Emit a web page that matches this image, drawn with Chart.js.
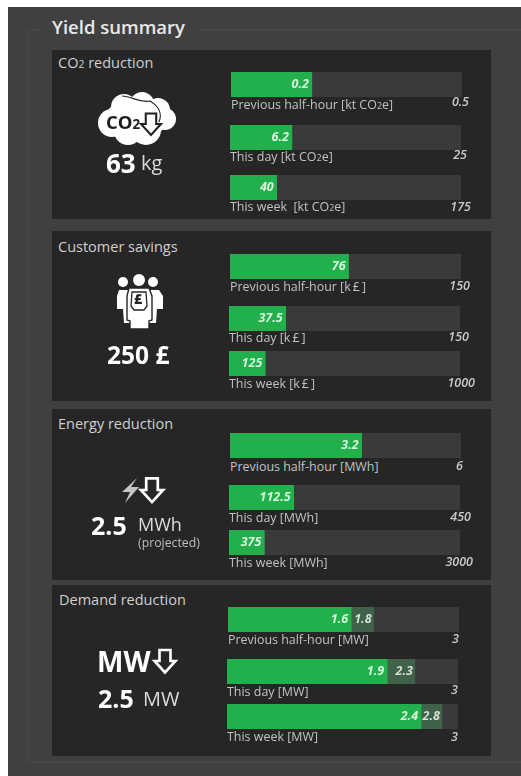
<!DOCTYPE html>
<html><head><meta charset="utf-8">
<script src="https://cdn.jsdelivr.net/npm/chart.js@4"></script>
<style>
html,body{margin:0;padding:0;background:#fff;}
#stage{position:relative;width:521px;height:776px;overflow:hidden;font-family:"Open Sans",sans-serif;filter:blur(.4px);}
#bg{position:absolute;left:8px;top:7px;width:513px;height:769px;background:#404040;}
#frame{position:absolute;left:28px;top:29px;width:520px;height:734px;border:1px solid #4a4a4a;box-sizing:border-box;}
#legend{position:absolute;left:40px;top:12px;padding:0 12px;background:#404040;color:#e8e8e8;font-weight:600;font-size:18.5px;line-height:30px;height:30px;white-space:nowrap;}
.panel{position:absolute;left:52px;width:439px;background:#262626;}
.t{position:absolute;white-space:nowrap;line-height:1;}
.ptitle{color:#cfcfcf;font-size:14.5px;}
.cap{color:#c2c2c2;font-size:12.45px;font-weight:500;}
.max{color:#cacaca;font-size:12.5px;font-weight:600;font-style:italic;}
.big{color:#fff;font-weight:700;}
.unit{color:#dcdcdc;font-weight:400;}
sub.s{font-size:.72em;vertical-align:baseline;line-height:0;}
canvas{position:absolute;display:block;}
svg{position:absolute;overflow:visible;}
</style></head><body>
<div id="stage">
<div id="bg"></div><div id="frame"></div><div id="legend">Yield summary</div>
</div>
<script>
// ---- data ----
const panelTitles = ["CO2 reduction", "Customer savings", "Energy reduction", "Demand reduction"];
const rowPeriods = ["Previous half-hour", "This day", "This week"];
const panelUnits = ["kt CO2e", "k\u2009£\u2009", "MWh", "MW"];

const co2Values      = [0.175, 6.7, 35.4];
const savingsValues  = [77, 36.8, 157];
const energyValues   = [3.42, 126, 459];
const demandValues   = [1.6, 2.08, 2.52];
const demandSecond   = [1.89, 2.44, 2.79];

const co2Labels      = ["0.2", "6.2", "40"];
const savingsLabels  = ["76", "37.5", "125"];
const energyLabels   = ["3.2", "112.5", "375"];
const demandLabels   = ["1.6", "1.9", "2.4"];
const demandSecondLabels = ["1.8", "2.3", "2.8"];

const co2Max     = [0.5, 25, 175];
const savingsMax = [150, 150, 1000];
const energyMax  = [6, 450, 3000];
const demandMax  = [3, 3, 3];

const allValues = [co2Values, savingsValues, energyValues, demandValues];
const allLabels = [co2Labels, savingsLabels, energyLabels, demandLabels];
const allMax = [co2Max, savingsMax, energyMax, demandMax];

// ---- layout ----
const panelBoxes = [[50,169],[231,170],[409,171],[585,171]];
const titlePos = [[58,56],[58,240],[58,417],[59,593]];
const barBoxes = [
 [[231,72],[230,125],[230,175]],
 [[230,254],[229,306],[229,351]],
 [[230,433],[229,485],[229,530]],
 [[228,607],[227,659],[227,704]]];
const capY = [[99,151,201],[281,332,378],[461,512,557],[634,686,731]];
const maxPos = [[[469,96],[467,149],[471,201]],[[470,280],[469,331],[475,377]],[[463,460],[471,511],[473,556]],[[459,633],[458,684],[458,731]]];
const BAR_W = 231, BAR_H = 25;
const stage = document.getElementById('stage');

function addText(cls, x, y, html, right, css){
  const d = document.createElement('div');
  d.className = 't ' + cls;
  d.style.top = y + 'px';
  if (right) d.style.right = (521 - x) + 'px'; else d.style.left = x + 'px';
  d.innerHTML = html;
  if (css) d.style.cssText += css;
  stage.appendChild(d);
  return d;
}
const co2 = s => s.replace(/CO2/g, 'CO<sub class="s">2</sub>');

panelBoxes.forEach(p => {
  const d = document.createElement('div');
  d.className = 'panel'; d.style.top = p[0]+'px'; d.style.height = p[1]+'px';
  stage.appendChild(d);
});

const valueLabelPlugin = {
  id: 'valueLabels',
  afterDatasetsDraw(chart) {
    const ctx = chart.ctx, items = chart.options.plugins.valueLabels.items;
    ctx.save();
    ctx.textAlign = 'right'; ctx.textBaseline = 'middle';
    ctx.font = 'italic 700 12.5px "Open Sans", sans-serif';
    items.forEach(it => {
      const x = chart.scales.x.getPixelForValue(it.value);
      const y = chart.scales.y.getPixelForValue(0);
      ctx.fillStyle = it.color;
      ctx.fillText(it.text, x - it.gap, y);
    });
    ctx.restore();
  }
};

panelTitles.forEach((title, pi) => {
  addText('ptitle', titlePos[pi][0], titlePos[pi][1], co2(title));
  rowPeriods.forEach((period, ri) => {
    const [x, y] = barBoxes[pi][ri];
    const c = document.createElement('canvas');
    c.width = BAR_W; c.height = BAR_H;
    c.style.left = x + 'px'; c.style.top = y + 'px';
    c.style.width = BAR_W + 'px'; c.style.height = BAR_H + 'px';
    stage.appendChild(c);
    const v = allValues[pi][ri], m = allMax[pi][ri];
    const datasets = [{ data:[v], backgroundColor:'#21b04b', order:1 }];
    const items = [{ value:v, text:allLabels[pi][ri], color:'#d9f7dc', gap:3 }];
    if (pi === 3) {
      datasets.push({ data:[demandSecond[ri]], backgroundColor:'#3f6249', order:2 });
      items.push({ value:demandSecond[ri], text:demandSecondLabels[ri], color:'#d6dfd8', gap:2 });
    }
    datasets.push({ data:[m], backgroundColor:'#3a3a3a', order:3 });
    new Chart(c, {
      type:'bar',
      data:{ labels:[period], datasets: datasets.map(d => Object.assign(d,{barPercentage:1,categoryPercentage:1,grouped:false,borderWidth:0})) },
      options:{
        indexAxis:'y', responsive:false, animation:false, devicePixelRatio:1,
        layout:{padding:0},
        scales:{ x:{display:false,min:0,max:m}, y:{display:false} },
        plugins:{ legend:{display:false}, tooltip:{enabled:false}, title:{display:false}, valueLabels:{items} }
      },
      plugins:[valueLabelPlugin]
    });
    const unit = panelUnits[pi];
    const sep = (pi === 0 && ri === 2) ? ' &nbsp;[' : ' [';
    addText('cap', x, capY[pi][ri], period + sep + co2(unit) + ']');
    addText('max', maxPos[pi][ri][0], maxPos[pi][ri][1], String(m), true);
  });
});

// ---- headline figures ----
addText('big', 106, 150, '63', false, 'font-size:26px;');
addText('unit', 141, 153, 'kg', false, 'font-size:20px;');
addText('big', 107, 343, '250 £', false, 'font-size:24.5px;');
addText('big', 91, 513, '2.5', false, 'font-size:25px;');
addText('unit', 138, 515, 'MWh', false, 'font-size:18px;');
addText('unit', 138, 537, '(projected)', false, 'font-size:12.3px;color:#bdbdbd;');
addText('big', 98, 686, '2.5', false, 'font-size:25px;');
addText('unit', 143, 689, 'MW', false, 'font-size:20px;');
addText('big', 97, 647, 'MW', false, 'font-size:28px;');

// ---- icons ----
function svg(inner){
  const w = document.createElement('div');
  w.innerHTML = '<svg width="521" height="776" style="left:0;top:0" xmlns="http://www.w3.org/2000/svg">'+inner+'</svg>';
  stage.appendChild(w.firstChild);
}
const arrow = (x,y,s,sw,fill,stroke) =>
 `<path transform="translate(${x},${y}) scale(${s})" d="M-5.5,-11 H5.5 V0 H10.5 L0,11.5 L-10.5,0 H-5.5 Z" fill="${fill}" stroke="${stroke}" stroke-width="${sw}" stroke-linejoin="miter"/>`;
svg(`
<g fill="#fff">
 <circle cx="112" cy="123" r="14"/><circle cx="124" cy="107" r="13"/><circle cx="142" cy="104" r="12"/>
 <circle cx="158" cy="110" r="12"/><circle cx="165" cy="119" r="11"/><circle cx="128" cy="131" r="14"/>
 <circle cx="146" cy="130" r="15"/><ellipse cx="136" cy="119" rx="31" ry="21"/>
</g>
<path d="M122,96 C132,96 138,103 150,101 C158,106 163,112 159,122" fill="none" stroke="#262626" stroke-width="1.2"/>
${arrow(151,124,.95,2.2,'#fff','#222')}
<g fill="#fff">
 <circle cx="123" cy="282" r="5"/><circle cx="153" cy="282" r="5"/><circle cx="139" cy="280" r="6"/>
 <path d="M119,290 H128 L131,323 H124 L123,309 H117 V296 Z"/><path d="M150,290 H159 L163,296 V309 H157 L156,323 H149 Z"/>
 <path d="M129,288 H149 L152,296 V320 L149,321 V329 H130 V321 L127,320 V296 Z" stroke="#262626" stroke-width="1.4"/>
</g>
<path d="M132,292 H146 L147,306 L144,310 H134 L131,306 Z" fill="none" stroke="#262626" stroke-width="1.3"/>
<path d="M137,478 L122,492 L130,492 L125,503 L139,487 L131,487 Z" fill="#c4c4c4"/>
${arrow(152,490,1.05,2.6,'none','#fff')}
${arrow(165,661,1.0,2.6,'none','#fff')}
`);
addText('', 106, 113, 'CO<sub class="s">2</sub>', false, 'font-size:18.5px;font-weight:700;color:#1c1c1c;');
addText('', 134, 292, '£', false, 'font-size:14px;font-weight:800;color:#262626;');
</script>
</body></html>
